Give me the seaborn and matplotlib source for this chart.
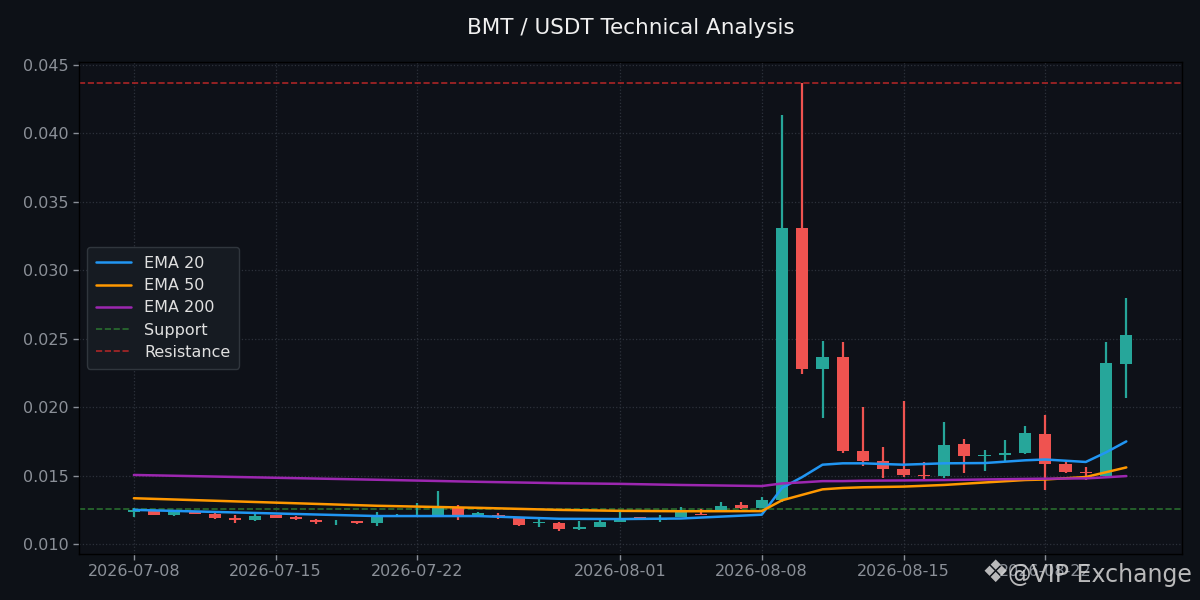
import numpy as np
import pandas as pd
import seaborn as sns
import matplotlib.pyplot as plt
import matplotlib.dates as mdates

# daily candles 2026-07-08 .. 2026-08-26
dates = pd.date_range("2026-07-08", "2026-08-26", freq="D")
opens = [0.01234, 0.01241, 0.01212, 0.01236, 0.01219, 0.01190, 0.01175, 0.01212, 0.01197, 0.01178,
         0.01168, 0.01168, 0.01153, 0.01198, 0.01203, 0.01212, 0.01270, 0.01200, 0.01212, 0.01197,
         0.01153, 0.01153, 0.01112, 0.01124, 0.01163, 0.01197, 0.01175, 0.01201, 0.01219, 0.01236,
         0.01283, 0.01261, 0.01322, 0.03309, 0.02279, 0.02366, 0.01680, 0.01607, 0.01548, 0.01504,
         0.01499, 0.01731, 0.01643, 0.01653, 0.01665, 0.01804, 0.01585, 0.01526, 0.01497, 0.02316]
highs = [0.01263, 0.01241, 0.01248, 0.01236, 0.01227, 0.01212, 0.01227, 0.01212, 0.01205, 0.01183,
         0.01175, 0.01168, 0.01234, 0.01220, 0.01300, 0.01387, 0.01285, 0.01236, 0.01227, 0.01197,
         0.01183, 0.01161, 0.01168, 0.01175, 0.01236, 0.01197, 0.01212, 0.01270, 0.01256, 0.01307,
         0.01307, 0.01346, 0.04135, 0.04367, 0.02483, 0.02476, 0.02000, 0.01709, 0.02045, 0.01600,
         0.01892, 0.01767, 0.01687, 0.01760, 0.01862, 0.01943, 0.01607, 0.01563, 0.02476, 0.02798]
lows = [0.01200, 0.01212, 0.01205, 0.01219, 0.01183, 0.01153, 0.01168, 0.01190, 0.01175, 0.01146,
        0.01139, 0.01148, 0.01132, 0.01195, 0.01203, 0.01212, 0.01178, 0.01200, 0.01183, 0.01132,
        0.01124, 0.01095, 0.01102, 0.01124, 0.01163, 0.01175, 0.01163, 0.01201, 0.01210, 0.01236,
        0.01256, 0.01261, 0.01310, 0.02242, 0.01921, 0.01665, 0.01570, 0.01482, 0.01490, 0.01468,
        0.01482, 0.01519, 0.01533, 0.01607, 0.01658, 0.01395, 0.01519, 0.01468, 0.01490, 0.02067]
closes = [0.01248, 0.01212, 0.01234, 0.01219, 0.01190, 0.01175, 0.01205, 0.01190, 0.01183, 0.01161,
          0.01171, 0.01153, 0.01197, 0.01205, 0.01207, 0.01270, 0.01207, 0.01224, 0.01205, 0.01139,
          0.01161, 0.01110, 0.01126, 0.01161, 0.01183, 0.01175, 0.01183, 0.01234, 0.01212, 0.01278,
          0.01263, 0.01321, 0.03309, 0.02279, 0.02366, 0.01680, 0.01607, 0.01548, 0.01504, 0.01497,
          0.01724, 0.01643, 0.01650, 0.01665, 0.01811, 0.01585, 0.01526, 0.01519, 0.02323, 0.02527]

# moving averages
ema_dates = pd.to_datetime(["2026-07-08", "2026-07-20", "2026-07-25", "2026-07-29", "2026-08-01",
                            "2026-08-04", "2026-08-08", "2026-08-09", "2026-08-10", "2026-08-11",
                            "2026-08-12", "2026-08-13", "2026-08-15", "2026-08-17", "2026-08-19",
                            "2026-08-21", "2026-08-22", "2026-08-24", "2026-08-25", "2026-08-26"])
ema20 = [0.01250, 0.01205, 0.01205, 0.01185, 0.01183, 0.01187, 0.01215, 0.01410, 0.01490, 0.01580,
         0.01590, 0.01590, 0.01580, 0.01590, 0.01592, 0.01612, 0.01618, 0.01600, 0.01670, 0.01750]
ema50 = [0.01335, 0.01280, 0.01265, 0.01250, 0.01243, 0.01240, 0.01241, 0.01320, 0.01360, 0.01400,
         0.01410, 0.01415, 0.01420, 0.01432, 0.01450, 0.01468, 0.01472, 0.01490, 0.01525, 0.01560]
ema200 = [0.01505, 0.01470, 0.01455, 0.01445, 0.01440, 0.01432, 0.01424, 0.01443, 0.01451, 0.01460,
          0.01460, 0.01463, 0.01465, 0.01468, 0.01472, 0.01476, 0.01478, 0.01480, 0.01488, 0.01497]
support = 0.01255
resistance = 0.04367

df = pd.DataFrame({"date": dates, "open": opens, "high": highs, "low": lows, "close": closes})
ema_df = pd.DataFrame({"date": ema_dates, "EMA 20": ema20, "EMA 50": ema50, "EMA 200": ema200})

fig_bg = "#0d1117"
ax_bg = "#0e1118"
up_col = "#26a69a"
down_col = "#ef5350"

sns.set_theme(style="dark")
plt.rcParams["font.family"] = ["DejaVu Sans"]

fig = plt.figure(figsize=(12, 6), dpi=100, facecolor=fig_bg)
ax = fig.add_axes([0.066, 0.0767, 0.919, 0.8203])
ax.set_facecolor(ax_bg)

# candles
up = df["close"] >= df["open"]
cols = np.where(up, up_col, down_col)
ax.vlines(df["date"], df["low"], df["high"], colors=cols, linewidth=1.6, zorder=2)
body_lo = np.minimum(df["open"], df["close"])
body_h = np.maximum((df["close"] - df["open"]).abs(), 0.00003)
ax.bar(df["date"], body_h, bottom=body_lo, width=0.6, color=cols, linewidth=0, zorder=3)

# EMAs
sns.lineplot(data=ema_df, x="date", y="EMA 20", ax=ax, color="#2196f3", linewidth=1.8, label="EMA 20", zorder=4)
sns.lineplot(data=ema_df, x="date", y="EMA 50", ax=ax, color="#ff9800", linewidth=1.8, label="EMA 50", zorder=4)
sns.lineplot(data=ema_df, x="date", y="EMA 200", ax=ax, color="#9c27b0", linewidth=1.8, label="EMA 200", zorder=4)

ax.axhline(support, color="#2e7d32", linestyle="--", linewidth=1.2, alpha=0.85, label="Support", zorder=1)
ax.axhline(resistance, color="#c62828", linestyle="--", linewidth=1.2, alpha=0.85, label="Resistance", zorder=1)

ax.set_xlim(dates[0] - pd.Timedelta(days=2.7), dates[-1] + pd.Timedelta(days=2.75))
ax.set_ylim(0.00928, 0.04522)
ax.set_yticks([0.010, 0.015, 0.020, 0.025, 0.030, 0.035, 0.040, 0.045])
ax.yaxis.set_major_formatter(plt.FuncFormatter(lambda v, p: f"{v:.3f}"))
ax.set_xticks(pd.to_datetime(["2026-07-08", "2026-07-15", "2026-07-22", "2026-08-01",
                              "2026-08-08", "2026-08-15", "2026-08-22"]))
ax.xaxis.set_major_formatter(mdates.DateFormatter("%Y-%m-%d"))
ax.set_xlabel("")
ax.set_ylabel("")

ax.grid(True, color="#353a44", linestyle=":", linewidth=0.9, alpha=0.8)
ax.tick_params(colors="#8b9098", labelsize=11.5, length=4, width=1, bottom=True, left=True)
for s in ax.spines.values():
    s.set_color("#000000")
    s.set_linewidth(1)

ax.set_title("BMT / USDT Technical Analysis", color="#f0f0f0", fontsize=15.5, pad=20)

leg = ax.legend(loc="center left", bbox_to_anchor=(0.0, 0.5), fontsize=11.5,
                facecolor="#161b22", edgecolor="#30363d", framealpha=1.0,
                labelcolor="#e0e0e0", borderpad=0.55, handlelength=2.2, labelspacing=0.45)

# watermark (overlaps the last date label, as in the source)
fig.text(0.993, 0.042, "@VIP Exchange", ha="right", va="center", fontsize=17,
         color="#d8d8d8", alpha=0.85, zorder=10)
fig.text(0.829, 0.044, "\u2756", ha="center", va="center", fontsize=22,
         color="#d8d8d8", alpha=0.85, zorder=10)

plt.savefig("out.png", dpi=100, facecolor=fig_bg)
